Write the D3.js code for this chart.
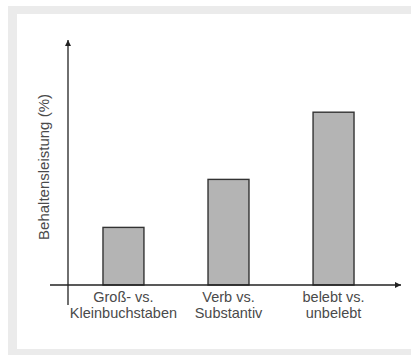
<!DOCTYPE html>
<html>
<head>
<meta charset="utf-8">
<script src="https://cdn.jsdelivr.net/npm/d3@7"></script>
<style>
  body { margin: 0; background: #fff; overflow: hidden; }
  text { font-family: "Liberation Sans", Arial, sans-serif; }
</style>
</head>
<body>
<script>
// data
var categories = ["gross", "verb", "belebt"];
var labelLines = [["Groß- vs.", "Kleinbuchstaben"], ["Verb vs.", "Substantiv"], ["belebt vs.", "unbelebt"]];
var values = [24, 44, 72];
var yLabel = "Behaltensleistung (%)";

// svg container
var width = 411;
var height = 355;

var svg = d3.select("body").append("svg")
    .attr("width", width)
    .attr("height", height)
    .style("display", "block");

// gray frame with white panel
svg.append("rect")
    .attr("x", 8).attr("y", 6)
    .attr("width", width - 8).attr("height", height - 6)
    .attr("fill", "#ebebeb");
svg.append("rect")
    .attr("x", 17).attr("y", 14)
    .attr("width", width - 17).attr("height", 335)
    .attr("fill", "#fff");

// arrow marker
svg.append("defs").append("marker")
    .attr("id", "arrow")
    .attr("viewBox", "0 0 10 10")
    .attr("refX", 10).attr("refY", 5)
    .attr("markerWidth", 7).attr("markerHeight", 6)
    .attr("markerUnits", "userSpaceOnUse")
    .attr("orient", "auto")
  .append("path")
    .attr("d", "M0,0L10,5L0,10Z")
    .attr("fill", "#222");

// scales
var xScale = d3.scaleBand()
    .domain(categories)
    .range([68, 389])
    .paddingInner(0.61)
    .paddingOuter(0.333);

var yScale = d3.scaleLinear()
    .domain([0, 100])
    .range([285, 45]);

// bars
svg.selectAll("rect.bar")
    .data(values)
    .enter()
    .append("rect")
    .attr("class", "bar")
    .attr("x", (d, i) => xScale(categories[i]))
    .attr("y", d => yScale(d))
    .attr("width", xScale.bandwidth())
    .attr("height", d => yScale(0) - yScale(d))
    .attr("fill", "#b4b4b4")
    .attr("stroke", "#333")
    .attr("stroke-width", 1.4);

// axes
svg.append("line")
    .attr("x1", 68).attr("y1", 305)
    .attr("x2", 68).attr("y2", 40)
    .attr("stroke", "#222").attr("stroke-width", 1.3)
    .attr("marker-end", "url(#arrow)");

svg.append("line")
    .attr("x1", 50).attr("y1", yScale(0))
    .attr("x2", 401).attr("y2", yScale(0))
    .attr("stroke", "#222").attr("stroke-width", 1.3)
    .attr("marker-end", "url(#arrow)");

// category labels, one text per line
categories.forEach(function(d, i) {
  labelLines[i].forEach(function(line, j) {
    svg.append("text")
      .attr("class", "cat")
      .attr("x", xScale(d) + xScale.bandwidth() / 2)
      .attr("y", 302 + j * 16)
      .attr("text-anchor", "middle")
      .attr("font-size", 14.5)
      .attr("fill", "#4a4a4a")
      .text(line);
  });
});

// y label
svg.append("text")
    .attr("transform", "translate(49,167) rotate(-90)")
    .attr("text-anchor", "middle")
    .attr("font-size", 15)
    .attr("fill", "#4a4a4a")
    .text(yLabel);
</script>
</body>
</html>
